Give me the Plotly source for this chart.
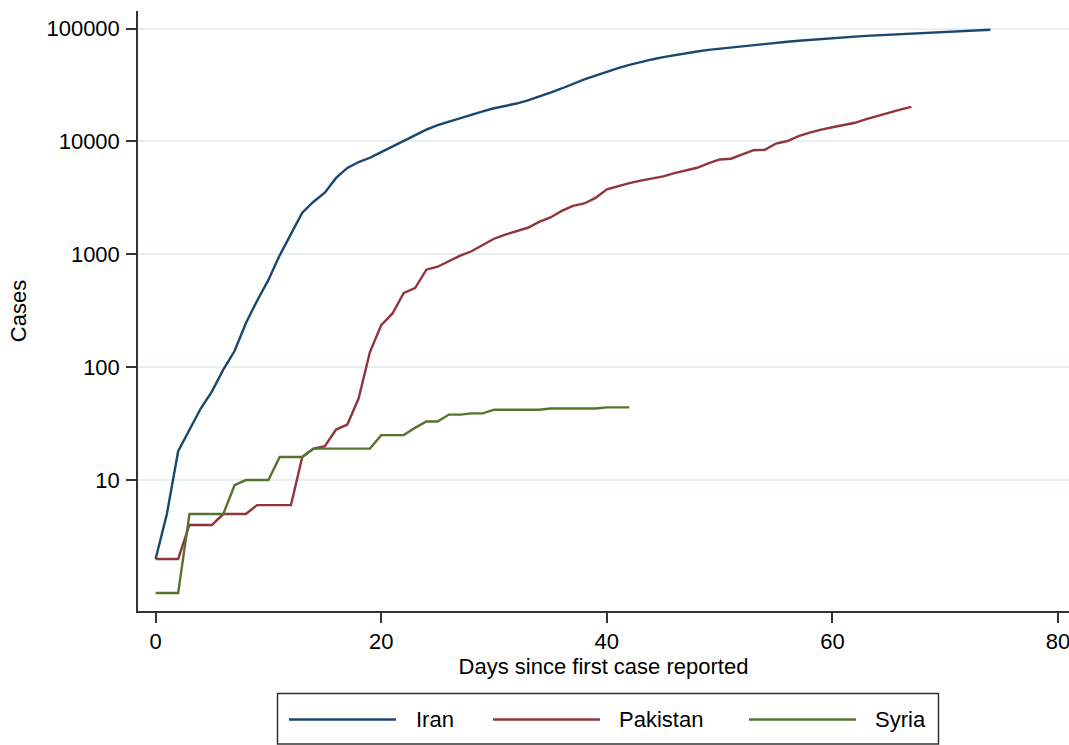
import plotly.graph_objects as go

# ---------------- data ----------------
series_names = ["Iran", "Pakistan", "Syria"]

iran_cases = [2, 5, 18, 28, 43, 61, 95, 139, 245, 388,
              593, 978, 1501, 2336, 2922, 3513, 4747, 5823, 6566, 7161,
              8042, 9000, 10075, 11364, 12729, 13938, 14991, 16169, 17361, 18407,
              19644, 20610, 21638, 23049, 24811, 27017, 29406, 32332, 35408, 38309,
              41495, 44605, 47593, 50468, 53183, 55743, 58226, 60500, 62589, 64586,
              66220, 68192, 70029, 71686, 73303, 74877, 76389, 77995, 79494, 80868,
              82211, 83505, 84802, 85996, 87026, 88194, 89328, 90481, 91472, 92584,
              93657, 94640, 95646, 96448, 97424]

pakistan_cases = [2, 2, 2, 4, 4, 4, 5, 5, 5, 6,
                  6, 6, 6, 16, 19, 20, 28, 31, 53, 136,
                  236, 299, 454, 501, 730, 776, 875, 972, 1063, 1201,
                  1373, 1495, 1597, 1717, 1938, 2118, 2421, 2686, 2818, 3157,
                  3766, 4035, 4263, 4489, 4695, 4892, 5230, 5496, 5837, 6383,
                  6919, 7025, 7638, 8348, 8418, 9565, 10076, 11155, 11940, 12723,
                  13328, 13915, 14612, 15759, 16817, 18114, 19103, 20186]

syria_cases = [1, 1, 1, 5, 5, 5, 5, 9, 10, 10,
               10, 16, 16, 16, 19, 19, 19, 19, 19, 19,
               25, 25, 25, 29, 33, 33, 38, 38, 39, 39,
               42, 42, 42, 42, 42, 43, 43, 43, 43, 43,
               44, 44, 44]

x_tick_vals = [0, 20, 40, 60, 80]
y_tick_vals = [10, 100, 1000, 10000, 100000]
y_tick_text = ["10", "100", "1000", "10000", "100000"]

x_title = "Days since first case reported"
y_title = "Cases"

# ---------------- styling ----------------
colors = ["#1a476f", "#90353b", "#55752f"]
FONT = "Liberation Sans, Arial, sans-serif"
W, H = 1069, 745
L, R, T, B = 138, 0, 11, 134
AX = "#333333"

all_series = [iran_cases, pakistan_cases, syria_cases]

fig = go.Figure()
for name, vals, col in zip(series_names, all_series, colors):
    fig.add_trace(go.Scatter(
        x=list(range(len(vals))), y=vals, mode="lines", name=name,
        line=dict(color=col, width=2.4), showlegend=False,
        hovertemplate=name + ": %{y}<extra></extra>",
    ))

# pixel -> paper helpers (for the hand-drawn legend box)
pw = W - L - R
ph = H - T - B
def px(x):
    return (x - L) / pw
def py(y):
    return (H - B - y) / ph

shapes = [dict(type="rect", xref="paper", yref="paper",
               x0=px(277.5), x1=px(938.5), y0=py(744), y1=py(693.5),
               line=dict(color=AX, width=1.5), fillcolor="white", layer="above")]
annotations = []
legend_line_x = [(289, 396), (493, 600), (749, 856)]
legend_text_x = [414, 617, 872.5]
ly = 719.5
for (x0, x1), tx, name, col in zip(legend_line_x, legend_text_x, series_names, colors):
    shapes.append(dict(type="line", xref="paper", yref="paper",
                       x0=px(x0), x1=px(x1), y0=py(ly), y1=py(ly),
                       line=dict(color=col, width=2.4), layer="above"))
    annotations.append(dict(xref="paper", yref="paper", x=px(tx), y=py(ly),
                            xanchor="left", yanchor="middle", text=name,
                            showarrow=False, font=dict(family=FONT, size=22, color="black")))

fig.update_layout(
    width=W, height=H,
    margin=dict(l=L, r=R, t=T, b=B, pad=0),
    paper_bgcolor="white", plot_bgcolor="white",
    font=dict(family=FONT, size=22, color="black"),
    shapes=shapes, annotations=annotations,
    xaxis=dict(
        range=[-1.56, 80.97], tickvals=x_tick_vals,
        showgrid=False, zeroline=False,
        showline=True, linecolor=AX, linewidth=1.5,
        ticks="outside", ticklen=10, tickwidth=1.5, tickcolor=AX,
        tickfont=dict(family=FONT, size=22, color="black"),
        ticklabeloverflow="allow",
        title=dict(text=x_title, font=dict(family=FONT, size=22, color="black"), standoff=4),
        automargin=False,
    ),
    yaxis=dict(
        type="log", range=[-0.160, 5.155],
        tickvals=y_tick_vals, ticktext=y_tick_text,
        showgrid=True, gridcolor="#e6eff1", gridwidth=1.5,
        zeroline=False,
        showline=True, linecolor=AX, linewidth=1.5,
        ticks="outside", ticklen=10, tickwidth=1.5, tickcolor=AX,
        tickfont=dict(family=FONT, size=22, color="black"),
        ticklabelstandoff=2,
        title=dict(text=y_title, font=dict(family=FONT, size=22, color="black"), standoff=14),
        automargin=False,
    ),
)

fig.write_html(
    "out.html",
    config={"displayModeBar": False},
    post_script="document.body.style.margin='0';document.body.style.overflow='hidden';",
)
